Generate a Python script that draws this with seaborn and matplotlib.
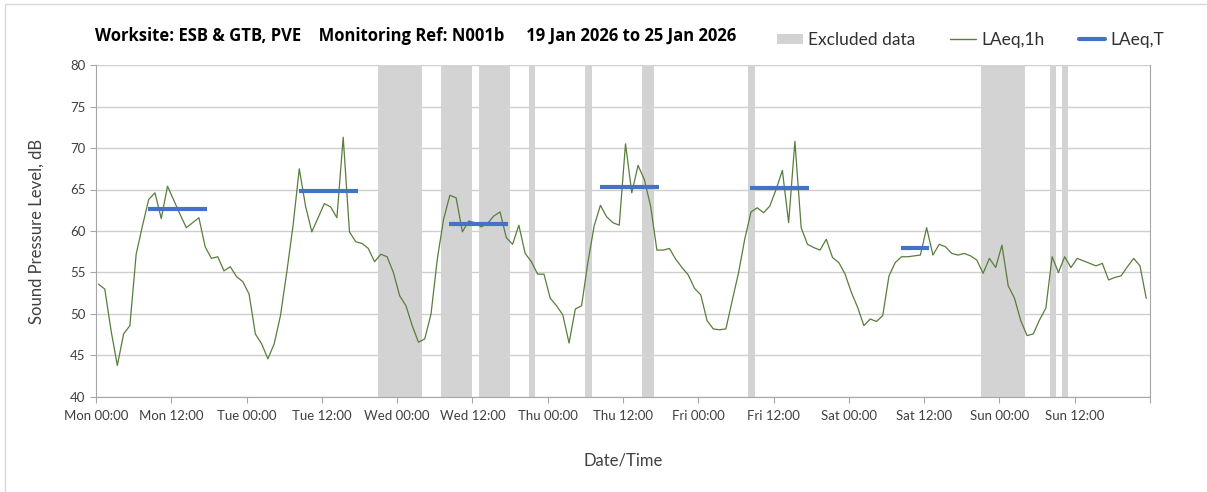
import numpy as np
import pandas as pd
import seaborn as sb
import matplotlib.pyplot as plt
from matplotlib.patches import Patch, Rectangle
from matplotlib.lines import Line2D

# hourly LAeq,1h values, Mon 00:00 -> Sun 23:00
laeq_1h = [
    53.6, 53.0, 48.0, 43.8, 47.6, 48.6, 57.2, 60.6, 63.8, 64.6,
    61.5, 65.4, 63.7, 62.0, 60.4, 61.0, 61.6, 58.1, 56.7, 56.9,
    55.2, 55.7, 54.5, 53.9, 52.4, 47.6, 46.4, 44.6, 46.4, 49.8,
    55.0, 60.6, 67.5, 63.0, 59.9, 61.6, 63.3, 62.9, 61.6, 71.3,
    59.9, 58.7, 58.5, 57.9, 56.3, 57.2, 56.9, 55.0, 52.2,
    51.0, 48.6, 46.6, 47.0, 50.0, 56.6, 61.4, 64.3, 64.0, 59.9,
    61.2, 61.0, 60.5, 60.9, 61.8, 62.3, 59.2, 58.4, 60.7, 57.3,
    56.3, 54.8, 54.8, 51.9, 51.0, 49.9, 46.5, 50.6, 51.0, 56.2,
    60.6, 63.1, 61.7, 61.0, 60.7, 70.5, 64.6, 67.9, 66.2, 63.0,
    57.7, 57.7, 57.9, 56.6, 55.6, 54.7,
    53.1, 52.3, 49.2, 48.2, 48.1, 48.2, 51.6, 54.9, 59.0, 62.3,
    62.8, 62.2, 63.0, 65.0, 67.3, 61.0, 70.8, 60.4, 58.4, 58.0,
    57.7, 59.0, 56.8, 56.2, 54.8, 52.6, 50.8, 48.6, 49.4, 49.1,
    49.8, 54.6, 56.2, 56.9, 56.9, 57.0, 57.1, 60.4, 57.1, 58.4,
    58.1, 57.3, 57.1, 57.3, 57.0, 56.5,
    54.9, 56.7, 55.6, 58.3, 53.4, 51.9, 49.2, 47.4, 47.6, 49.3,
    50.7, 56.9, 55.0, 56.9, 55.6, 56.7, 56.4, 56.1, 55.8, 56.1,
    54.1, 54.4, 54.6, 55.7, 56.7, 55.8, 51.9,
]

# LAeq,T daytime periods (hours from Mon 00:00)
period_start = [8.3, 32.3, 56.3, 80.3, 104.3, 128.3]
period_end = [17.7, 41.7, 65.7, 89.7, 113.7, 132.7]
laeq_t = [62.7, 64.8, 60.9, 65.3, 65.2, 57.9]

# excluded data windows (hours from Mon 00:00)
excl_start = [45, 55, 61, 69, 78, 87, 104, 141, 152, 154]
excl_end = [52, 60, 66, 70, 79, 89, 105, 148, 153, 155]

tick_labels = ["Mon 00:00", "Mon 12:00", "Tue 00:00", "Tue 12:00", "Wed 00:00",
               "Wed 12:00", "Thu 00:00", "Thu 12:00", "Fri 00:00", "Fri 12:00",
               "Sat 00:00", "Sat 12:00", "Sun 00:00", "Sun 12:00", ""]

df = pd.DataFrame({"hour": np.arange(len(laeq_1h)) + 0.4, "LAeq": laeq_1h})

sb.set_style("white")
plt.rcParams['font.family'] = ['Lato', 'DejaVu Sans']

green = "#587d3c"
blue = "#4472c4"
grey = "#d3d3d3"

fig = plt.figure(figsize=(12.07, 4.92), dpi=100)
ax = fig.add_axes([96 / 1207, 1 - 397 / 492, (1150 - 96) / 1207, (397 - 65) / 492])

for s, e in zip(excl_start, excl_end):
    ax.axvspan(s, e, color=grey, lw=0, zorder=1)

ax.set_xlim(0, 168)
ax.set_ylim(40, 80)
ax.set_yticks(range(40, 81, 5))
ax.set_xticks(range(0, 169, 12))
ax.set_xticklabels(tick_labels)
ax.set_xticks(range(0, 169, 24), minor=True)

ax.grid(axis="y", which="major", color="#cfcfcf", lw=1, zorder=0)
ax.grid(axis="x", which="minor", color="#d9d9d9", lw=1, zorder=0)
ax.set_axisbelow(True)

sb.lineplot(data=df, x="hour", y="LAeq", color=green, lw=0.9, ax=ax, zorder=3)
ax.hlines(laeq_t, period_start, period_end, color=blue, lw=3, zorder=4)

for side in ["left", "bottom", "right"]:
    ax.spines[side].set_color("#a6a6a6")
ax.spines["top"].set_visible(False)
ax.tick_params(axis="both", which="major", labelsize=9.5, colors="#a6a6a6",
               labelcolor="#404040", length=4, direction="out", left=True, bottom=True)
ax.tick_params(axis="x", which="minor", length=0)
ax.tick_params(axis="x", pad=5)

ax.set_xlabel("Date/Time", fontsize=12, color="#404040", labelpad=22)
ax.set_ylabel("Sound Pressure Level, dB", fontsize=12, color="#404040", labelpad=18)

fig.text(95 / 1207, 1 - 36 / 492, "Worksite: ESB & GTB, PVE    Monitoring Ref: N001b     19 Jan 2026 to 25 Jan 2026",
         fontsize=12, fontweight="bold", color="black", va="center", ha="left",
         family=["Open Sans", "DejaVu Sans"])

handles = [Patch(facecolor=grey, edgecolor="none", label="Excluded data"),
           Line2D([], [], color=green, lw=1, label="LAeq,1h"),
           Line2D([], [], color=blue, lw=3, label="LAeq,T")]
fig.legend(handles=handles, loc="center left", bbox_to_anchor=(761 / 1207, 1 - 40 / 492),
           ncol=3, frameon=False, fontsize=12.5, handlelength=1.5, handleheight=0.55,
           handletextpad=0.3, columnspacing=2.0, labelcolor="#303030")

fig.patches.append(Rectangle((5 / 1207, -0.1), 1.2, 1 - 4 / 492 + 0.1, transform=fig.transFigure,
                             fill=False, edgecolor="#d9d9d9", lw=1))

fig.savefig("out.png", dpi=100)
